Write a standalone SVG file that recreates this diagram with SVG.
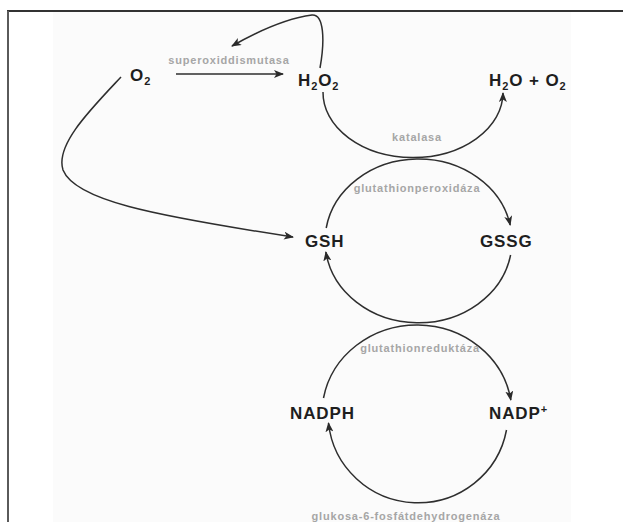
<svg xmlns="http://www.w3.org/2000/svg" width="623" height="522" viewBox="0 0 623 522">
<defs>
<marker id="ah" viewBox="0 0 10 8" refX="9" refY="4" markerWidth="10" markerHeight="8" markerUnits="userSpaceOnUse" orient="auto">
<path d="M0,0 L10,4 L0,8 L2.5,4 Z" fill="#2a2a2a"/>
</marker>
<style>
.m{font-family:"Liberation Sans",Arial,sans-serif;font-weight:bold;font-size:17px;fill:#1e1e1e;letter-spacing:0.9px}
.s{font-size:11px}
.e{font-family:"Liberation Sans",Arial,sans-serif;font-weight:bold;font-size:11px;fill:#a6a6a6;letter-spacing:0.8px;text-anchor:middle}
.c{fill:none;stroke:#2e2e2e;stroke-width:1.5;marker-end:url(#ah)}
</style>
</defs>
<rect x="0" y="0" width="623" height="522" fill="#ffffff"/>
<rect x="53" y="12" width="518" height="510" fill="#fbfbfb"/>
<line x1="7" y1="11" x2="623" y2="11" stroke="#333" stroke-width="2"/>
<line x1="8" y1="11" x2="8" y2="522" stroke="#5a5a5a" stroke-width="2"/>

<g id="connectors">
<path class="c" d="M176,74 L283,74"/>
<path class="c" d="M320,68 C325,40 324,14 312,15 C290,18 260,30 232,46"/>
<path class="c" d="M121,77 C90,110 55,145 63,170 C75,200 150,215 293,237"/>
<path class="c" d="M323,92 A90,65 0 0 0 503,93"/>
<path class="c" d="M326.2,228 A93.5,82 0 0 1 510.2,225"/>
<path class="c" d="M510.6,255 A93.5,82 0 0 1 325.9,252"/>
<path class="c" d="M323.5,398 A95,89 0 0 1 510.8,400"/>
<path class="c" d="M506.5,430 A90,89 0 0 1 328.5,423"/>
</g>

<g id="O2"><text class="m" x="130" y="81">O<tspan class="s" dy="4">2</tspan></text></g>
<g id="H2O2"><text class="m" x="298" y="86">H<tspan class="s" dy="4">2</tspan><tspan dy="-4">O</tspan><tspan class="s" dy="4">2</tspan></text></g>
<g id="H2O_O2"><text class="m" x="489" y="86">H<tspan class="s" dy="4">2</tspan><tspan dy="-4">O + O</tspan><tspan class="s" dy="4">2</tspan></text></g>
<g id="GSH"><text class="m" x="305" y="247">GSH</text></g>
<g id="GSSG"><text class="m" x="480" y="247">GSSG</text></g>
<g id="NADPH"><text class="m" x="290" y="419">NADPH</text></g>
<g id="NADP"><text class="m" x="489" y="419">NADP<tspan class="s" dy="-6">+</tspan></text></g>

<g id="enzymes">
<text class="e" x="229" y="64">superoxiddismutasa</text>
<text class="e" x="417" y="141">katalasa</text>
<text class="e" x="417" y="192">glutathionperoxidáza</text>
<text class="e" x="420" y="352">glutathionreduktáza</text>
<text class="e" x="406" y="520">glukosa-6-fosfátdehydrogenáza</text>
</g>
</svg>
